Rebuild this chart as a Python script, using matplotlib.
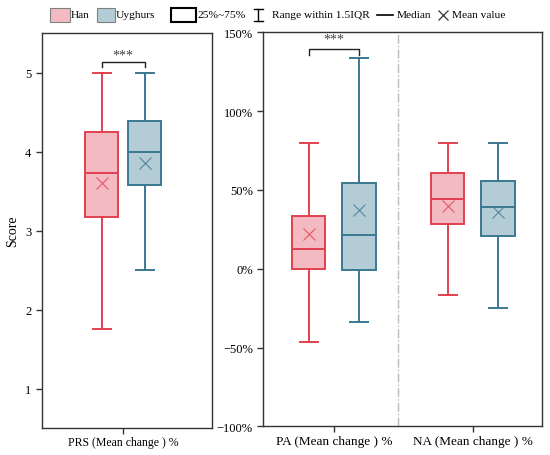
import matplotlib
matplotlib.use("Agg")
import matplotlib.pyplot as plt
from matplotlib.patches import Rectangle
from matplotlib.lines import Line2D

plt.rcParams['font.family'] = ['Liberation Serif', 'DejaVu Serif']
plt.rcParams['axes.unicode_minus'] = True

# Datos (Han / Uyghurs)
grupos = ['Han', 'Uyghurs']
color_borde = ['#E2404F', '#3A7892']
color_relleno = ['#F4BAC2', '#B4CCD6']

# PRS (Score)
prs_whislo = [1.75, 2.50]
prs_q1 = [3.17, 3.58]
prs_med = [3.73, 4.00]
prs_q3 = [4.25, 4.39]
prs_whishi = [5.00, 5.00]
prs_mean = [3.60, 3.86]

# PA y NA (% cambio medio)
variables = ['PA (Mean change ) %', 'NA (Mean change ) %']
pa_whislo = [-46.3, -33.6]
pa_q1 = [0.0, -0.5]
pa_med = [12.5, 21.6]
pa_q3 = [33.2, 54.4]
pa_whishi = [80.0, 133.5]
pa_mean = [22.0, 37.5]

na_whislo = [-16.9, -25.1]
na_q1 = [28.2, 21.0]
na_med = [44.4, 39.0]
na_q3 = [60.7, 55.4]
na_whishi = [80.0, 80.0]
na_mean = [40.0, 35.8]


def stats(lo, q1, med, q3, hi, mean):
    return dict(whislo=lo, q1=q1, med=med, q3=q3, whishi=hi, mean=mean, fliers=[])


def dibujar_caja(ax, st, pos, i, ancho, cap):
    ax.bxp([st], positions=[pos], widths=ancho, capwidths=cap, patch_artist=True,
           showmeans=True, showfliers=False,
           boxprops=dict(facecolor=color_relleno[i], edgecolor=color_borde[i], linewidth=1.4),
           medianprops=dict(color=color_borde[i], linewidth=1.4),
           whiskerprops=dict(color=color_borde[i], linewidth=1.4),
           capprops=dict(color=color_borde[i], linewidth=1.4),
           meanprops=dict(marker='x', markeredgecolor=color_borde[i], markersize=8,
                          markeredgewidth=0.8, alpha=0.8))


def corchete(ax, x0, x1, y_base, y_top, y_txt):
    ax.plot([x0, x0, x1, x1], [y_base, y_top, y_top, y_base], color='#222222', lw=1.0)
    ax.text((x0 + x1) / 2, y_txt, '***', ha='center', va='center', fontsize=10, color='#444444')


fig = plt.figure(figsize=(5.5, 4.56), dpi=100)
ax1 = fig.add_axes([0.0758, 0.0592, 0.3096, 0.866])
ax2 = fig.add_axes([0.4787, 0.0629, 0.5073, 0.864])

for ax in (ax1, ax2):
    for s in ax.spines.values():
        s.set_color('#333333')
        s.set_linewidth(1.0)
    ax.tick_params(direction='out', length=4, width=1.0, color='#333333', labelsize=9)

# Panel izquierdo: PRS
for i in range(2):
    st = stats(prs_whislo[i], prs_q1[i], prs_med[i], prs_q3[i], prs_whishi[i], prs_mean[i])
    dibujar_caja(ax1, st, 1 + (i * 2 - 1) * 0.2, i, 0.31, 0.169)
ax1.set_xlim(0.234, 1.833)
ax1.set_ylim(0.5, 5.5)
ax1.set_yticks([1, 2, 3, 4, 5])
ax1.set_xticks([1])
ax1.set_xticklabels(['PRS (Mean change ) %'], fontsize=8.5)
ax1.tick_params(axis='x', pad=2)
ax1.set_ylabel('Score', fontsize=10, labelpad=4)
corchete(ax1, 0.8, 1.2, 5.07, 5.13, 5.22)

# Panel derecho: PA y NA
datos = [(pa_whislo, pa_q1, pa_med, pa_q3, pa_whishi, pa_mean),
         (na_whislo, na_q1, na_med, na_q3, na_whishi, na_mean)]
for g, d in enumerate(datos):
    for i in range(2):
        st = stats(d[0][i], d[1][i], d[2][i], d[3][i], d[4][i], d[5][i])
        dibujar_caja(ax2, st, g + 1 + (i * 2 - 1) * 0.181, i, 0.238, 0.13)
ax2.set_xlim(0.492, 2.50)
ax2.set_ylim(-100, 150)
ax2.set_yticks([-100, -50, 0, 50, 100, 150])
ax2.set_yticklabels([f'{v}%'.replace('-', '\u2212') for v in [-100, -50, 0, 50, 100, 150]])
ax2.set_xticks([1, 2])
ax2.set_xticklabels(variables, fontsize=9.5)
ax2.tick_params(axis='x', pad=2)
ax2.axvline(1.464, color='#BBBBBB', lw=1.0, ls='-.')
corchete(ax2, 0.819, 1.181, 135.6, 139.4, 145.5)

# Leyenda superior hecha a mano
yc = 1 - 16 / 456
h = 13.4 / 456
fs = 8.2


def fx(px):
    return px / 550


fig.add_artist(Rectangle((fx(50), yc - h / 2), fx(20), h, facecolor=color_relleno[0],
                         edgecolor='#808080', lw=0.8, transform=fig.transFigure))
fig.text(fx(71), yc, 'Han', va='center', ha='left', fontsize=fs)
fig.add_artist(Rectangle((fx(96.7), yc - h / 2), fx(18.3), h, facecolor=color_relleno[1],
                         edgecolor='#808080', lw=0.8, transform=fig.transFigure))
fig.text(fx(116), yc, 'Uyghurs', va='center', ha='left', fontsize=fs)
fig.add_artist(Rectangle((fx(171), yc - h / 2), fx(25), h, facecolor='white',
                         edgecolor='black', lw=1.5, transform=fig.transFigure))
fig.text(fx(198), yc, '25%~75%', va='center', ha='left', fontsize=fs)
# simbolo I del rango
y_lo = 1 - 21.7 / 456
y_hi = 1 - 10 / 456
for xs, ys in [([fx(258), fx(258)], [y_lo, y_hi]),
               ([fx(253.5), fx(262.5)], [y_lo, y_lo]),
               ([fx(253.5), fx(262.5)], [y_hi, y_hi])]:
    fig.add_artist(Line2D(xs, ys, color='black', lw=1.0, transform=fig.transFigure))
fig.text(fx(272), yc, 'Range within 1.5IQR', va='center', ha='left', fontsize=fs)
fig.add_artist(Line2D([fx(377), fx(393)], [yc, yc], color='black', lw=1.2,
                      transform=fig.transFigure))
fig.text(fx(397), yc, 'Median', va='center', ha='left', fontsize=fs)
fig.add_artist(Line2D([fx(443)], [yc], marker='x', color='#333333', markersize=7,
                      markeredgewidth=0.9, transform=fig.transFigure))
fig.text(fx(452), yc, 'Mean value', va='center', ha='left', fontsize=fs)

fig.savefig('out.png', dpi=100)
